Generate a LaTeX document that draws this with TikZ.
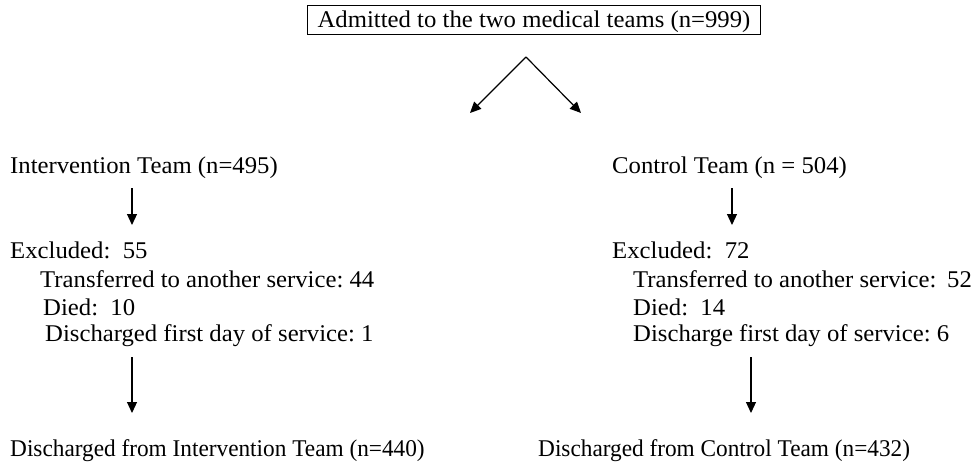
\documentclass[tikz,border=0pt]{standalone}
\usepackage{fontspec}
\setmainfont{Liberation Serif}[FakeStretch=1.03]
\newfontfamily\narrowserif{Liberation Serif}[FakeStretch=0.97]
\usetikzlibrary{arrows.meta}
\frenchspacing
\begin{document}
\begin{tikzpicture}[x=1pt, y=-1pt, font=\fontsize{24}{28}\selectfont,
            txt/.style={anchor=base west, inner sep=0},
            outcome/.style={txt, font=\fontsize{24}{28}\narrowserif},
            arr/.style={-{Triangle[length=11pt, width=10pt]}, line width=1.2pt}]
            \useasboundingbox (0,0) rectangle (977,468);
            % Admission
            \node[draw, line width=0.9pt, anchor=base, inner xsep=10pt, inner ysep=5.5pt,
                  text height=17pt, text depth=1pt] (adm) at (534,28)
                  {Admitted to the two medical teams (n=999)};
            \coordinate (split) at (526,57);
            \coordinate (splitL) at (470,113);
            \coordinate (splitR) at (581,113);
            \draw[arr] (split) -- (splitL);
            \draw[arr] (split) -- (splitR);

            % Intervention
            \node[txt] (int) at (10,173) {Intervention Team (n=495)};
            \node[txt] (intx) at (10,258) {Excluded:~~55};
            \foreach \x/\y/\txt [count=\i] in {40/287/Transferred to another service: 44,
                    43/315/Died:~~10, 45/341/Discharged first day of service: 1} {
                \node[txt] (I\i) at (\x,\y) {\txt};
            }
            \node[outcome] (intd) at (10,456) {Discharged from Intervention Team (n=440)};
            \coordinate (intA) at (132,0);
            \coordinate (intB) at (132,0);
            \draw[arr] ([yshift=-15pt]int.base -| intA) -- ([yshift=33pt]intx.base -| intA);
            \draw[arr] ([yshift=-16pt]I3.base -| intB) -- ([yshift=43pt]intd.base -| intB);

            % Control
            \node[txt] (ctl) at (612,173) {Control Team (n = 504)};
            \node[txt] (ctlx) at (612,258) {Excluded:~~72};
            \foreach \x/\y/\txt [count=\i] in {633/287/Transferred to another service:\hspace{0.45em}52,
                    633/315/Died:~~14, 633/341/Discharge first day of service: 6} {
                \node[txt] (C\i) at (\x,\y) {\txt};
            }
            \node[outcome] (ctld) at (538,456) {Discharged from Control Team (n=432)};
            \coordinate (ctlA) at (732,0);
            \coordinate (ctlB) at (751,0);
            \draw[arr] ([yshift=-15pt]ctl.base -| ctlA) -- ([yshift=33pt]ctlx.base -| ctlA);
            \draw[arr] ([yshift=-16pt]C3.base -| ctlB) -- ([yshift=43pt]ctld.base -| ctlB);
\end{tikzpicture}
\end{document}
